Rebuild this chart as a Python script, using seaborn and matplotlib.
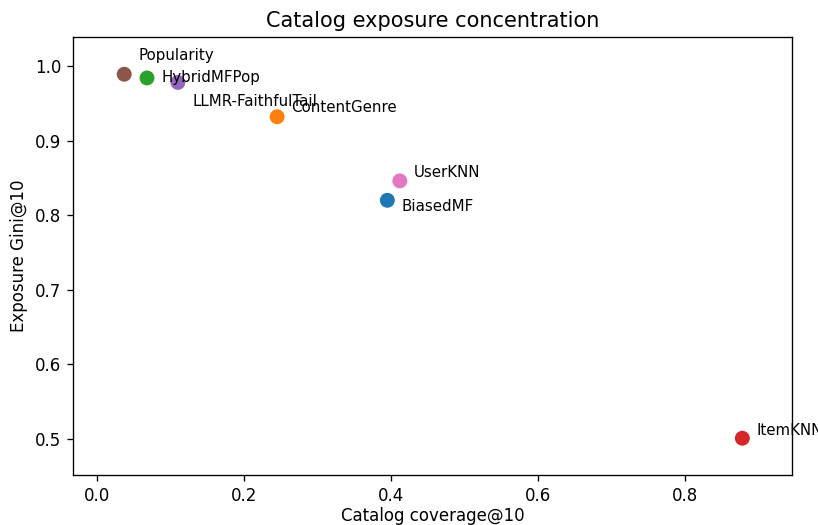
import matplotlib
matplotlib.use("Agg")
import matplotlib.pyplot as plt
import seaborn as sns
import pandas as pd

models = ["BiasedMF", "ContentGenre", "HybridMFPop", "ItemKNN",
          "LLMR-FaithfulTail", "Popularity", "UserKNN"]
coverage = [0.395, 0.245, 0.068, 0.878, 0.110, 0.037, 0.412]
gini = [0.820, 0.932, 0.984, 0.501, 0.978, 0.989, 0.846]

df = pd.DataFrame({"model": models, "coverage": coverage, "gini": gini})

# label offsets (points)
label_dy = {"BiasedMF": -3.5, "ContentGenre": 5.5, "HybridMFPop": 0,
            "ItemKNN": 4.5, "LLMR-FaithfulTail": -11.5, "Popularity": 11,
            "UserKNN": 5}

dpi = 120
fig = plt.figure(figsize=(818 / dpi, 525 / dpi), dpi=dpi)
ax = fig.add_axes([73 / 818, 1 - 475 / 525, (792 - 73) / 818, (475 - 37) / 525])

sns.scatterplot(data=df, x="coverage", y="gini", hue="model", hue_order=models,
                palette="tab10", s=95, ax=ax, legend=False)

for m, x, y in zip(models, coverage, gini):
    ax.annotate(m, (x, y), xytext=(8.5, label_dy[m]), textcoords="offset points",
                fontsize=9, ha="left", va="center")

ax.set_xlim(-0.0327, 0.9456)
ax.set_ylim(0.4517, 1.0389)
ax.set_xlabel("Catalog coverage@10", fontsize=10, labelpad=1.5)
ax.set_ylabel("Exposure Gini@10", fontsize=10)
ax.set_title("Catalog exposure concentration", fontsize=12.5)

fig.savefig("out.png", dpi=dpi)
